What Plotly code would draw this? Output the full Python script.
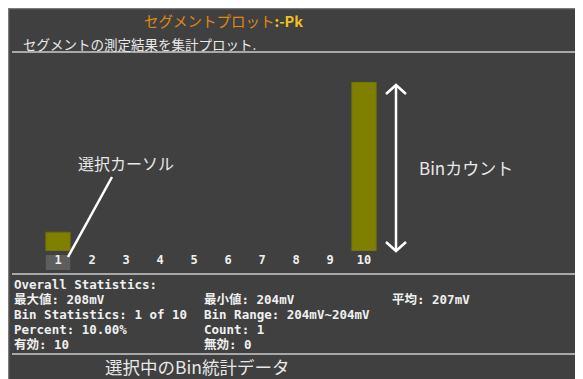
import plotly.graph_objects as go

# page body has an 8px margin, so the figure starts at (8, 8) in the window
OFF = 8
W, H = 575, 379

# ---- data ----
bins = [1, 2, 3, 4, 5, 6, 7, 8, 9, 10]
bin_labels = ["1", "2", "3", "4", "5", "6", "7", "8", "9", "10"]
counts = [1, 0, 0, 0, 0, 0, 0, 0, 0, 9]
selected_bin = 1

title_main = "セグメントプロット"
title_suffix = ":-Pk"
subtitle = "セグメントの測定結果を集計プロット."
stats_rows = [
    ["Overall Statistics:", "", ""],
    ["最大値: 208mV", "最小値: 204mV", "平均: 207mV"],
    ["Bin Statistics: 1 of 10", "Bin Range: 204mV~204mV", ""],
    ["Percent: 10.00%", "Count: 1", ""],
    ["有効: 10", "無効: 0", ""],
]
callout_cursor = "選択カーソル"
callout_count = "Binカウント"
callout_stats = "選択中のBin統計データ"


def px(x):
    return (x - OFF) / W


def py(y):
    return 1 - (y - OFF) / H


BG = "#404040"
MONO = "DejaVu Sans Mono, Noto Sans CJK JP, monospace"
CJK = "Noto Sans CJK JP, sans-serif"

fig = go.Figure()
fig.add_trace(go.Bar(
    x=bins, y=counts, width=0.72,
    marker=dict(color="#808000",
                line=dict(color="#6a6a10", width=[1 if c > 0 else 0 for c in counts])),
    hoverinfo="skip",
))

shapes = []
# panel border
shapes.append(dict(type="rect", xref="paper", yref="paper",
                   x0=px(8.5), x1=px(581.5), y0=py(390), y1=py(8.5),
                   fillcolor=BG, line=dict(color="#7a7a7a", width=1.5), layer="below"))
# separator lines
for yy in (52, 274, 354):
    shapes.append(dict(type="line", xref="paper", yref="paper",
                       x0=px(12), x1=px(581), y0=py(yy), y1=py(yy),
                       line=dict(color="#a8a8a8", width=2)))
# highlight box under selected bin label
shapes.append(dict(type="rect", xref="x", yref="paper",
                   x0=selected_bin - 0.36, x1=selected_bin + 0.36,
                   y0=py(270), y1=py(255), fillcolor="#5e5e5e",
                   line=dict(width=0), layer="below"))
# cursor pointer line
shapes.append(dict(type="line", xref="paper", yref="paper",
                   x0=px(112), y0=py(177), x1=px(68), y1=py(257),
                   line=dict(color="white", width=2.5)))
# double-headed arrow
ax_x, ay0, ay1 = 396, 85, 251
shapes.append(dict(type="line", xref="paper", yref="paper",
                   x0=px(ax_x), x1=px(ax_x), y0=py(ay0), y1=py(ay1),
                   line=dict(color="white", width=2.5)))
shapes.append(dict(type="path", xref="paper", yref="paper",
                   path=f"M {px(ax_x-10)} {py(ay0+9)} L {px(ax_x)} {py(ay0)} L {px(ax_x+10)} {py(ay0+9)}",
                   line=dict(color="white", width=2.5)))
shapes.append(dict(type="path", xref="paper", yref="paper",
                   path=f"M {px(ax_x-10)} {py(ay1-9)} L {px(ax_x)} {py(ay1)} L {px(ax_x+10)} {py(ay1-9)}",
                   line=dict(color="white", width=2.5)))

annotations = []
annotations.append(dict(xref="paper", yref="paper", x=px(142), y=py(20),
                        xanchor="left", yanchor="middle", showarrow=False,
                        text=f"<span style='color:#e08a10'>{title_main}</span>"
                             f"<span style='color:#f0c020'><b>{title_suffix}</b></span>",
                        font=dict(family=CJK, size=14.5)))
annotations.append(dict(xref="paper", yref="paper", x=px(21), y=py(44),
                        xanchor="left", yanchor="middle", showarrow=False,
                        text=subtitle, font=dict(family=CJK, size=13.5, color="#e8e8e8")))

col_x = [12, 202, 390]
row_y = [284, 299, 314, 329, 344]
for r, row in enumerate(stats_rows):
    for c, txt in enumerate(row):
        if not txt:
            continue
        annotations.append(dict(xref="paper", yref="paper", x=px(col_x[c]), y=py(row_y[r]),
                                xanchor="left", yanchor="middle", showarrow=False,
                                text=f"<b>{txt}</b>",
                                font=dict(family=MONO, size=12.5, color="#f0f0f0")))

annotations.append(dict(xref="paper", yref="paper", x=px(126), y=py(163),
                        xanchor="center", yanchor="middle", showarrow=False,
                        text=callout_cursor, font=dict(family=CJK, size=16, color="#e8e8e8")))
annotations.append(dict(xref="paper", yref="paper", x=px(417), y=py(168),
                        xanchor="left", yanchor="middle", showarrow=False,
                        text=callout_count, font=dict(family=CJK, size=17, color="#e8e8e8")))
annotations.append(dict(xref="paper", yref="paper", x=px(103), y=py(366),
                        xanchor="left", yanchor="middle", showarrow=False,
                        text=callout_stats, font=dict(family=CJK, size=17.5, color="#e8e8e8")))

fig.update_layout(
    width=W, height=H,
    margin=dict(l=0, r=0, t=0, b=0),
    paper_bgcolor="white", plot_bgcolor="rgba(0,0,0,0)",
    showlegend=False,
    shapes=shapes, annotations=annotations,
    xaxis=dict(domain=[px(41), px(381)], range=[0.5, 10.5],
               tickmode="array", tickvals=bins, ticktext=[f"<b>{t}</b>" for t in bin_labels],
               tickfont=dict(family=MONO, size=12, color="#f0f0f0"),
               showgrid=False, zeroline=False, showline=False, ticks="", ticklen=0),
    yaxis=dict(domain=[py(251), py(82)], range=[0, 9],
               showgrid=False, zeroline=False, showline=False, showticklabels=False),
)

fig.write_html("out.html")
